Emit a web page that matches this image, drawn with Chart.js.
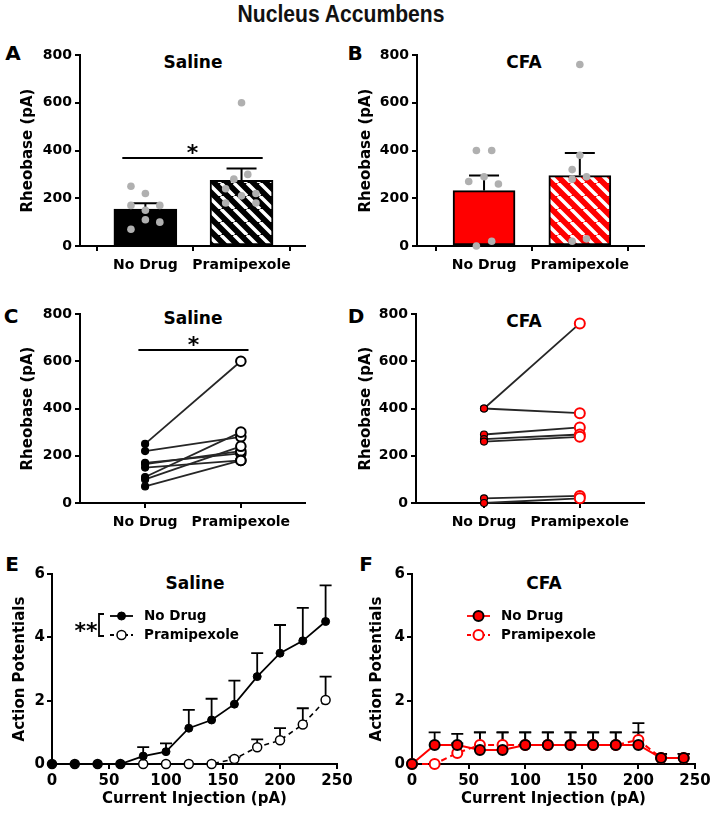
<!DOCTYPE html>
<html>
<head>
<meta charset="utf-8">
<script src="https://cdn.jsdelivr.net/npm/chart.js@4.4.1/dist/chart.umd.min.js"></script>
<style>
html,body{margin:0;padding:0;background:#fff;}
body{width:714px;height:820px;position:relative;overflow:hidden;}
canvas{position:absolute;}
.lbl{position:absolute;transform:translate(-50%,-50%);white-space:nowrap;color:#000;font-family:'DejaVu Sans',sans-serif;font-weight:bold;line-height:1;}
.main{position:absolute;left:341px;top:14px;transform:translate(-50%,-50%) scaleX(0.88);font-family:'Liberation Sans',Arial,sans-serif;font-weight:bold;font-size:24px;line-height:1;white-space:nowrap;color:#111;}
</style>
</head>
<body>
<div class="main">Nucleus Accumbens</div>
<div class="lbl" style="left:13px;top:53px;font-size:20px">A</div>
<div class="lbl" style="left:355px;top:53px;font-size:20px">B</div>
<div class="lbl" style="left:11px;top:316px;font-size:20px">C</div>
<div class="lbl" style="left:356px;top:316px;font-size:20px">D</div>
<div class="lbl" style="left:12px;top:564px;font-size:20px">E</div>
<div class="lbl" style="left:366px;top:564px;font-size:20px">F</div>
<div class="lbl" style="left:193px;top:62px;font-size:17px">Saline</div>
<div class="lbl" style="left:524px;top:62px;font-size:17px">CFA</div>
<div class="lbl" style="left:193px;top:318px;font-size:17px">Saline</div>
<div class="lbl" style="left:524px;top:321px;font-size:17px">CFA</div>
<div class="lbl" style="left:195px;top:583px;font-size:17px">Saline</div>
<div class="lbl" style="left:544px;top:583px;font-size:17px">CFA</div>

<canvas id="cA" width="350" height="245" style="left:0px;top:40px;width:350px;height:245px"></canvas>
<canvas id="cB" width="364" height="245" style="left:350px;top:40px;width:364px;height:245px"></canvas>
<canvas id="cC" width="350" height="245" style="left:0px;top:290px;width:350px;height:245px"></canvas>
<canvas id="cD" width="364" height="245" style="left:350px;top:290px;width:364px;height:245px"></canvas>
<canvas id="cE" width="357" height="275" style="left:0px;top:545px;width:357px;height:275px"></canvas>
<canvas id="cF" width="357" height="275" style="left:357px;top:545px;width:357px;height:275px"></canvas>

<script>
// ---------------- DATA ----------------
const groups = ['No Drug', 'Pramipexole'];
const rheoTicks = [0, 200, 400, 600, 800];
const apTicks = [0, 2, 4, 6];
const currentTicks = [0, 50, 100, 150, 200, 250];
const apSeries = ['No Drug', 'Pramipexole'];

// Panel A (Saline, rheobase)
const salineMeans = [155, 275];
const salineSEM = [24, 50];
const salineNoDrug = [250, 220, 170, 170, 150, 110, 100, 70];
const salineNoDrugJitter = [-0.15, 0, -0.15, 0.15, 0, 0, 0.15, -0.15];
const salinePram = [600, 300, 280, 240, 220, 210, 180, 180];
const salinePramJitter = [0, 0.065, -0.08, -0.165, 0.15, 0, -0.165, 0.15];

// Panel B (CFA, rheobase)
const cfaMeans = [232, 295];
const cfaSEM = [63, 95];
const cfaNoDrug = [400, 400, 290, 270, 260, 20, 0];
const cfaNoDrugJitter = [-0.08, 0.08, 0, -0.16, 0.15, 0.08, -0.08];
const cfaPram = [760, 380, 320, 290, 280, 20, 30];
const cfaPramJitter = [0, 0, -0.08, 0.07, -0.08, -0.08, 0.07];

// Panel C (Saline, paired)
const salinePairNoDrug = [250, 220, 170, 165, 150, 110, 100, 70];
const salinePairPram   = [600, 280, 210, 220, 180, 300, 240, 180];

// Panel D (CFA, paired)
const cfaPairNoDrug = [400, 400, 290, 270, 260, 20, 0];
const cfaPairPram   = [760, 380, 320, 290, 280, 30, 20];

// Panels E/F (action potentials vs current)
const current = [0, 20, 40, 60, 80, 100, 120, 140, 160, 180, 200, 220, 240];
const salineApNoDrug    = [0, 0, 0, 0, 0.25, 0.39, 1.13, 1.39, 1.89, 2.76, 3.5, 3.89, 4.5];
const salineApNoDrugSEM = [0, 0, 0, 0, 0.28, 0.26, 0.58, 0.67, 0.74, 0.74, 0.89, 1.04, 1.14];
const salineApPram      = [0, 0, 0, 0, 0, 0, 0, 0, 0.16, 0.53, 0.75, 1.25, 2.02];
const salineApPramSEM   = [0, 0, 0, 0, 0, 0, 0, 0, 0.05, 0.25, 0.38, 0.51, 0.74];

const cfaApNoDrug    = [0, 0.6, 0.6, 0.44, 0.44, 0.6, 0.6, 0.6, 0.6, 0.6, 0.6, 0.19, 0.19];
const cfaApNoDrugSEM = [0, 0.4, 0.35, 0.56, 0.56, 0.4, 0.4, 0.4, 0.4, 0.4, 0.4, 0.13, 0.13];
const cfaApPram      = [0, 0, 0.35, 0.6, 0.6, 0.6, 0.6, 0.6, 0.6, 0.6, 0.76, 0.19, 0.19];
const cfaApPramSEM   = [0, 0, 0.3, 0.4, 0.4, 0.4, 0.4, 0.4, 0.4, 0.4, 0.53, 0.13, 0.13];

// ---------------- SETUP ----------------
Chart.defaults.font.family = "'DejaVu Sans', sans-serif";
Chart.defaults.font.weight = 'bold';
Chart.defaults.color = '#000';

function hatch(fg, bg) {
  const s = 13;
  const c = document.createElement('canvas');
  c.width = s; c.height = s;
  const g = c.getContext('2d');
  g.fillStyle = bg; g.fillRect(0, 0, s, s);
  g.strokeStyle = fg; g.lineWidth = 3.5;
  g.beginPath();
  for (let k = -1; k <= 1; k++) { g.moveTo(k * s, 0); g.lineTo(k * s + s, s); }
  g.stroke();
  return g.createPattern(c, 'repeat');
}

const axisGrid = {drawOnChartArea: false, drawTicks: true, tickLength: 5, color: '#000', lineWidth: 2};
const axisBorder = {display: true, color: '#000', width: 2};

function yScale(o) {
  return {
    type: 'linear', min: o.min, max: o.max,
    afterBuildTicks: s => { s.ticks = o.ticks.map(v => ({value: v})); },
    ticks: {font: {size: o.tickSize, weight: 'bold'}, padding: o.tickPad, color: '#000'},
    grid: axisGrid, border: axisBorder,
    title: {display: true, text: o.title, color: '#000', font: {size: 15, weight: 'bold'}, padding: {top: o.titlePad, bottom: 0}},
    afterFit: s => { s.width = o.width; }
  };
}
function xScale(o) {
  return {
    type: 'linear', min: o.min, max: o.max, offset: false,
    afterBuildTicks: s => { s.ticks = o.ticks.map(v => ({value: v})); },
    ticks: {font: {size: o.tickSize, weight: 'bold'}, padding: o.tickPad, color: '#000', autoSkip: false, maxRotation: 0,
            callback: o.labels ? (v => o.labels[v]) : (v => String(v))},
    grid: axisGrid, border: axisBorder,
    title: o.title ? {display: true, text: o.title, color: '#000', font: {size: 15, weight: 'bold'}, padding: {top: 0, bottom: o.titlePad}} : {display: false},
    afterFit: s => { s.height = o.height; }
  };
}
function baseOpts(padding, scales) {
  return {
    responsive: false, animation: false, events: [],
    layout: {padding},
    plugins: {legend: {display: false}, tooltip: {enabled: false}, title: {display: false}},
    scales
  };
}

function barErrors(dsIndex, means, sems, cap) {
  return {
    id: 'barErr',
    afterDatasetDraw(chart, args) {
      if (args.index !== dsIndex) return;
      const {ctx, scales: {x, y}} = chart;
      ctx.save(); ctx.strokeStyle = '#000'; ctx.lineWidth = 2;
      means.forEach((m, i) => {
        const px = x.getPixelForValue(i), p0 = y.getPixelForValue(m), p1 = y.getPixelForValue(m + sems[i]);
        ctx.beginPath(); ctx.moveTo(px, p0); ctx.lineTo(px, p1);
        ctx.moveTo(px - cap, p1); ctx.lineTo(px + cap, p1); ctx.stroke();
      });
      ctx.restore();
    }
  };
}
function lineErrors(series, cap) {
  return {
    id: 'lineErr',
    beforeDatasetsDraw(chart) {
      const {ctx, scales: {x, y}} = chart;
      ctx.save(); ctx.strokeStyle = '#000'; ctx.lineWidth = 1.8;
      series.forEach(s => {
        s.means.forEach((m, i) => {
          if (!(s.sems[i] > 0)) return;
          const px = x.getPixelForValue(current[i]), p0 = y.getPixelForValue(m), p1 = y.getPixelForValue(m + s.sems[i]);
          ctx.beginPath(); ctx.moveTo(px, p0); ctx.lineTo(px, p1);
          ctx.moveTo(px - cap, p1); ctx.lineTo(px + cap, p1); ctx.stroke();
        });
      });
      ctx.restore();
    }
  };
}
function sigBar(x0, x1, yv, stars) {
  return {
    id: 'sig',
    afterDraw(chart) {
      const {ctx, scales: {x, y}} = chart;
      const a = x.getPixelForValue(x0), b = x.getPixelForValue(x1), py = y.getPixelForValue(yv);
      ctx.save(); ctx.strokeStyle = '#000'; ctx.lineWidth = 2;
      ctx.beginPath(); ctx.moveTo(a, py); ctx.lineTo(b, py); ctx.stroke();
      ctx.fillStyle = '#000'; ctx.font = "bold 22px 'DejaVu Sans'"; ctx.textAlign = 'center'; ctx.textBaseline = 'alphabetic';
      ctx.fillText(stars, (a + b) / 2, py + 2);
      ctx.restore();
    }
  };
}
function apLegend(items, withStars) {
  return {
    id: 'apLegend',
    afterDraw(chart) {
      const ctx = chart.ctx;
      ctx.save();
      items.forEach(it => {
        ctx.strokeStyle = it.line; ctx.lineWidth = 1.8; ctx.setLineDash(it.dash || []);
        ctx.beginPath(); ctx.moveTo(110, it.y); ctx.lineTo(133, it.y); ctx.stroke();
        ctx.setLineDash([]);
        ctx.beginPath(); ctx.arc(121.5, it.y, it.r, 0, Math.PI * 2);
        ctx.fillStyle = it.fill; ctx.fill();
        ctx.lineWidth = it.bw; ctx.strokeStyle = it.stroke; ctx.stroke();
        ctx.fillStyle = '#000'; ctx.font = "bold 13.5px 'DejaVu Sans'"; ctx.textAlign = 'left'; ctx.textBaseline = 'middle';
        ctx.fillText(it.label, 144, it.y);
      });
      if (withStars) {
        ctx.strokeStyle = '#000'; ctx.lineWidth = 1.8;
        ctx.beginPath(); ctx.moveTo(104, 69); ctx.lineTo(99, 69); ctx.lineTo(99, 91); ctx.lineTo(104, 91); ctx.stroke();
        ctx.fillStyle = '#000'; ctx.font = "bold 22px 'DejaVu Sans'"; ctx.textAlign = 'center'; ctx.textBaseline = 'alphabetic';
        ctx.fillText('**', 86, 93);
      }
      ctx.restore();
    }
  };
}

// ---------------- PANEL A ----------------
new Chart(document.getElementById('cA'), {
  type: 'bar',
  data: {datasets: [
    {type: 'scatter', order: 0, clip: false,
     data: salineNoDrug.map((v, i) => ({x: salineNoDrugJitter[i], y: v})).concat(salinePram.map((v, i) => ({x: 1 + salinePramJitter[i], y: v}))),
     pointRadius: 3.8, pointBackgroundColor: '#b0b0b0', pointBorderColor: '#b0b0b0', pointBorderWidth: 0},
    {type: 'bar', order: 1, data: groups.map((g, i) => ({x: i, y: salineMeans[i]})),
     backgroundColor: ['#000', hatch('#fff', '#000')], borderColor: '#000', borderWidth: 2, borderSkipped: false, barThickness: 63}
  ]},
  options: baseOpts({top: 15, right: 45, left: 0, bottom: 0}, {
    x: xScale({min: -0.68, max: 1.66, ticks: [0, 1], labels: groups, tickSize: 14, tickPad: 6, height: 39}),
    y: yScale({min: 0, max: 800, ticks: rheoTicks, tickSize: 14, tickPad: 3, title: 'Rheobase (pA)', titlePad: 19, width: 80})
  }),
  plugins: [barErrors(1, salineMeans, salineSEM, 15), sigBar(-0.24, 1.22, 369, '*')]
});

// ---------------- PANEL B ----------------
new Chart(document.getElementById('cB'), {
  type: 'bar',
  data: {datasets: [
    {type: 'scatter', order: 0, clip: false,
     data: cfaNoDrug.map((v, i) => ({x: cfaNoDrugJitter[i], y: v})).concat(cfaPram.map((v, i) => ({x: 1 + cfaPramJitter[i], y: v}))),
     pointRadius: 3.8, pointBackgroundColor: '#b0b0b0', pointBorderColor: '#b0b0b0', pointBorderWidth: 0},
    {type: 'bar', order: 1, data: groups.map((g, i) => ({x: i, y: cfaMeans[i]})),
     backgroundColor: ['#ff0000', hatch('#fff', '#ff0000')], borderColor: '#000', borderWidth: 2, borderSkipped: false, barThickness: 62}
  ]},
  options: baseOpts({top: 15, right: 70, left: 0, bottom: 0}, {
    x: xScale({min: -0.70, max: 1.67, ticks: [0, 1], labels: groups, tickSize: 14, tickPad: 6, height: 39}),
    y: yScale({min: 0, max: 800, ticks: rheoTicks, tickSize: 14, tickPad: 3, title: 'Rheobase (pA)', titlePad: 7, width: 67})
  }),
  plugins: [barErrors(1, cfaMeans, cfaSEM, 15)]
});

// ---------------- PANEL C ----------------
function pairedDatasets(nd, pr, ndFill, ndStroke, ndR, prStroke, prR) {
  const ds = [
    {label: groups[0], data: nd.map(v => ({x: 0, y: v})), showLine: false, clip: false,
     pointRadius: ndR, pointBackgroundColor: ndFill, pointBorderColor: ndStroke, pointBorderWidth: 1.2},
    {label: groups[1], data: pr.map(v => ({x: 1, y: v})), showLine: false, clip: false,
     pointRadius: prR, pointBackgroundColor: '#fff', pointBorderColor: prStroke, pointBorderWidth: 2}
  ];
  nd.forEach((v, i) => ds.push({data: [{x: 0, y: v}, {x: 1, y: pr[i]}], showLine: true, pointRadius: 0,
    borderColor: '#262626', borderWidth: 1.8, clip: false}));
  return ds;
}
new Chart(document.getElementById('cC'), {
  type: 'scatter',
  data: {datasets: pairedDatasets(salinePairNoDrug, salinePairPram, '#000', '#000', 3.5, '#000', 4.8)},
  options: baseOpts({top: 24, right: 45, left: 0, bottom: 0}, {
    x: xScale({min: -0.68, max: 1.67, ticks: [0, 1], labels: groups, tickSize: 14, tickPad: 6, height: 32}),
    y: yScale({min: 0, max: 800, ticks: rheoTicks, tickSize: 14, tickPad: 3, title: 'Rheobase (pA)', titlePad: 19, width: 80})
  }),
  plugins: [sigBar(-0.07, 1.08, 648, '*')]
});

// ---------------- PANEL D ----------------
new Chart(document.getElementById('cD'), {
  type: 'scatter',
  data: {datasets: pairedDatasets(cfaPairNoDrug, cfaPairPram, '#ff0000', '#000', 3.5, '#ff0000', 5)},
  options: baseOpts({top: 24, right: 70, left: 0, bottom: 0}, {
    x: xScale({min: -0.71, max: 1.67, ticks: [0, 1], labels: groups, tickSize: 14, tickPad: 6, height: 32}),
    y: yScale({min: 0, max: 800, ticks: rheoTicks, tickSize: 14, tickPad: 3, title: 'Rheobase (pA)', titlePad: 7, width: 66})
  })
});

// ---------------- PANEL E ----------------
new Chart(document.getElementById('cE'), {
  type: 'line',
  data: {datasets: [
    {label: apSeries[0], data: current.map((c, i) => ({x: c, y: salineApNoDrug[i]})), clip: false, tension: 0,
     borderColor: '#000', borderWidth: 1.8, pointRadius: 4, pointBackgroundColor: '#000', pointBorderColor: '#000', pointBorderWidth: 1},
    {label: apSeries[1], data: current.map((c, i) => ({x: c, y: salineApPram[i]})), clip: false, tension: 0,
     borderColor: '#000', borderWidth: 1.6, borderDash: [5, 4], pointRadius: 4.5, pointBackgroundColor: '#fff', pointBorderColor: '#000', pointBorderWidth: 1.5}
  ]},
  options: baseOpts({top: 29, right: 20, left: 0, bottom: 0}, {
    x: xScale({min: 0, max: 250, ticks: currentTicks, tickSize: 15, tickPad: 3, height: 56, title: 'Current Injection (pA)', titlePad: 12}),
    y: yScale({min: 0, max: 6, ticks: apTicks, tickSize: 15, tickPad: 2, title: 'Action Potentials', titlePad: 11, width: 52})
  }),
  plugins: [
    lineErrors([{means: salineApNoDrug, sems: salineApNoDrugSEM}, {means: salineApPram, sems: salineApPramSEM}], 6),
    apLegend([
      {label: apSeries[0], y: 71, line: '#000', fill: '#000', stroke: '#000', r: 4, bw: 1},
      {label: apSeries[1], y: 90, line: '#000', dash: [4, 3], fill: '#fff', stroke: '#000', r: 4.5, bw: 1.5}
    ], true)
  ]
});

// ---------------- PANEL F ----------------
new Chart(document.getElementById('cF'), {
  type: 'line',
  data: {datasets: [
    {label: apSeries[0], data: current.map((c, i) => ({x: c, y: cfaApNoDrug[i]})), clip: false, tension: 0,
     borderColor: '#ff0000', borderWidth: 2, pointRadius: 5, pointBackgroundColor: '#ff0000', pointBorderColor: '#000', pointBorderWidth: 2},
    {label: apSeries[1], data: current.map((c, i) => ({x: c, y: cfaApPram[i]})), clip: false, tension: 0,
     borderColor: '#ff0000', borderWidth: 2, borderDash: [6, 4], pointRadius: 5, pointBackgroundColor: '#fff', pointBorderColor: '#ff0000', pointBorderWidth: 2}
  ]},
  options: baseOpts({top: 29, right: 19, left: 0, bottom: 0}, {
    x: xScale({min: 0, max: 250, ticks: currentTicks, tickSize: 15, tickPad: 3, height: 56, title: 'Current Injection (pA)', titlePad: 12}),
    y: yScale({min: 0, max: 6, ticks: apTicks, tickSize: 15, tickPad: 2, title: 'Action Potentials', titlePad: 11, width: 55})
  }),
  plugins: [
    lineErrors([{means: cfaApNoDrug, sems: cfaApNoDrugSEM}, {means: cfaApPram, sems: cfaApPramSEM}], 6),
    apLegend([
      {label: apSeries[0], y: 71, line: '#ff0000', fill: '#ff0000', stroke: '#000', r: 5, bw: 2},
      {label: apSeries[1], y: 90, line: '#ff0000', dash: [4, 3], fill: '#fff', stroke: '#ff0000', r: 5, bw: 2}
    ], false)
  ]
});
</script>
</body>
</html>
